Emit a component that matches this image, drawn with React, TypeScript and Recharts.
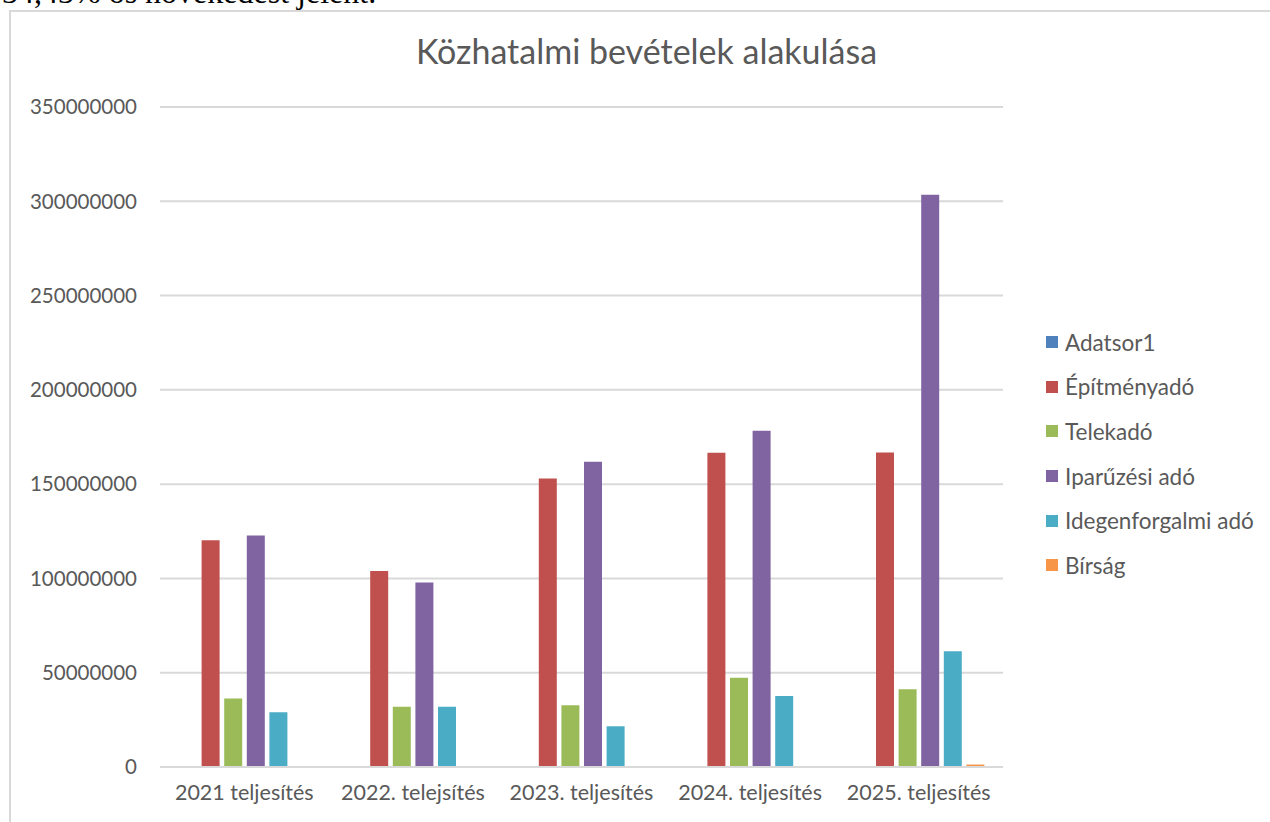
import React from "react";
import { BarChart, Bar, XAxis, YAxis, CartesianGrid } from "recharts";

const categories = [
  "2021 teljesítés",
  "2022. telejsítés",
  "2023. teljesítés",
  "2024. teljesítés",
  "2025. teljesítés",
];

const adatsor1: (number | null)[] = [null, null, null, null, null];
const epitmenyado = [120200000, 104000000, 153000000, 166700000, 166800000];
const telekado = [36300000, 32000000, 32700000, 47300000, 41200000];
const iparuzesiAdo = [122800000, 97800000, 161900000, 178300000, 303500000];
const idegenforgalmiAdo = [29000000, 31900000, 21600000, 37700000, 61400000];
const birsag = [200000, 150000, 250000, 300000, 1300000];

const yTicks = [0, 50000000, 100000000, 150000000, 200000000, 250000000, 300000000, 350000000];

const series = [
  { key: "Adatsor1", color: "#4F81BD", values: adatsor1 },
  { key: "Építményadó", color: "#C0504D", values: epitmenyado },
  { key: "Telekadó", color: "#9BBB59", values: telekado },
  { key: "Iparűzési adó", color: "#8064A2", values: iparuzesiAdo },
  { key: "Idegenforgalmi adó", color: "#4BACC6", values: idegenforgalmiAdo },
  { key: "Bírság", color: "#F79646", values: birsag },
];

const data = categories.map((name, i) => {
  const row: Record<string, string | number | null> = { name };
  series.forEach((s) => {
    row[s.key] = s.values[i];
  });
  return row;
});

const FONT = "Lato, 'Open Sans', sans-serif";
const TEXT = "#595959";

function LegendList() {
  return (
    <div style={{ fontFamily: FONT }}>
      {series.map((s) => (
        <div
          key={s.key}
          style={{
            display: "flex",
            alignItems: "center",
            height: 44.6,
            fontSize: 22.5,
            color: TEXT,
            whiteSpace: "nowrap",
          }}
        >
          <span
            style={{
              width: 12,
              height: 12,
              background: s.color,
              marginRight: 7,
              display: "inline-block",
            }}
          />
          {s.key}
        </div>
      ))}
    </div>
  );
}

export default function App() {
  return (
    <div
      style={{
        position: "absolute",
        left: 0,
        top: 0,
        width: 1270,
        height: 822,
        overflow: "hidden",
        background: "#fff",
      }}
    >
      {/* tail of the paragraph above the chart, clipped by the page edge */}
      <div
        style={{
          position: "absolute",
          left: 2,
          top: -26,
          fontFamily: "'Liberation Serif', serif",
          fontSize: 32,
          color: "#000",
          whiteSpace: "nowrap",
        }}
      >
        34,43% os növekedést jelent.
      </div>
      <div
        style={{
          position: "absolute",
          left: 9,
          top: 10,
          width: 1320,
          height: 900,
          border: "2px solid #d9d9d9",
        }}
      />
      <div
        style={{
          position: "absolute",
          left: 0,
          top: 30,
          width: 1293,
          textAlign: "center",
          fontFamily: FONT,
          fontSize: 34,
          color: TEXT,
        }}
      >
        Közhatalmi bevételek alakulása
      </div>
      <div style={{ position: "absolute", left: 0, top: 0 }}>
        <BarChart
          width={1270}
          height={822}
          data={data}
          margin={{ top: 107, right: 267, bottom: 25, left: 0 }}
          barSize={18}
          barGap={4.6}
        >
          <CartesianGrid vertical={false} stroke="#d9d9d9" strokeWidth={2} />
          <XAxis
            dataKey="name"
            height={30}
            tickLine={false}
            axisLine={{ stroke: "#d9d9d9", strokeWidth: 2 }}
            tickSize={0}
            tickMargin={18}
            tick={{ fill: TEXT, fontSize: 21.5, fontFamily: FONT }}
            interval={0}
          />
          <YAxis
            width={160}
            domain={[0, 350000000]}
            ticks={yTicks}
            tickLine={false}
            axisLine={false}
            tickSize={0}
            tickMargin={23}
            tick={{ fill: TEXT, fontSize: 20.5, fontFamily: FONT }}
          />
          {series.map((s) => (
            <Bar
              key={s.key}
              dataKey={s.key}
              fill={s.color}
              isAnimationActive={false}
            />
          ))}
        </BarChart>
      </div>
      <div style={{ position: "absolute", left: 1046, top: 320 }}>
        <LegendList />
      </div>
    </div>
  );
}
